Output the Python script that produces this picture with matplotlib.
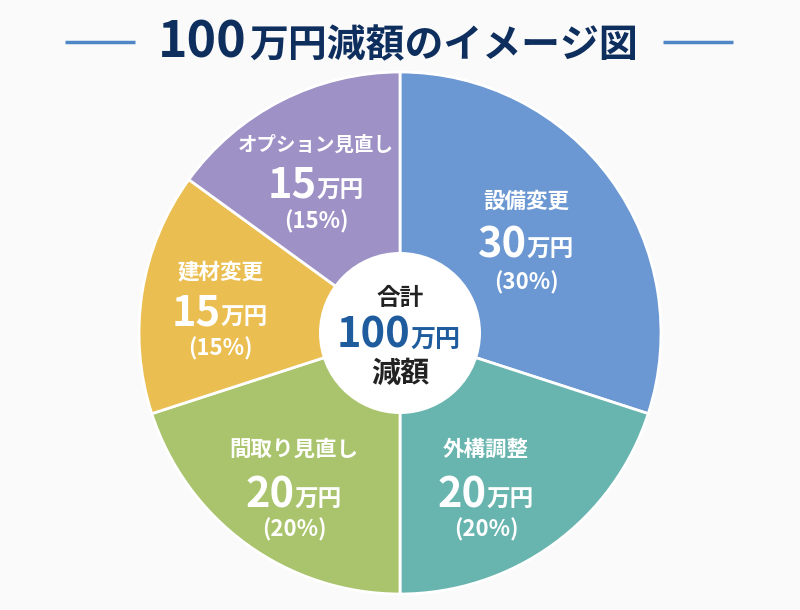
import matplotlib
matplotlib.use('Agg')
import matplotlib.pyplot as plt
from matplotlib.patches import Circle

plt.rcParams['font.family'] = ['Noto Sans CJK JP', 'DejaVu Sans']

# ---- data ----
title_num = '100'
title_rest = '万円減額のイメージ図'
categories = ['設備変更', '外構調整', '間取り見直し', '建材変更', 'オプション見直し']
amounts = [30, 20, 20, 15, 15]
percents = [30, 20, 20, 15, 15]
colors = ['#6b98d2', '#68b4ae', '#a9c46c', '#ebbe51', '#9d91c6']
unit = '万円'
total = 100
center_top = '合計'
center_bottom = '減額'

# ---- layout (pixel coordinates, y measured from top) ----
W, H = 800, 610
fig = plt.figure(figsize=(8, 6.1), dpi=100, facecolor='#fafafa')
ax = fig.add_axes([0, 0, 1, 1])
ax.set_facecolor('#fafafa')

def Y(y):
    return H - y

cx, cy, R = 400, 333, 261
ax.pie(amounts, colors=colors, startangle=90, counterclock=False,
       center=(cx, Y(cy)), radius=R,
       wedgeprops=dict(edgecolor='white', linewidth=2.0))
ax.set_xlim(0, W)
ax.set_ylim(0, H)
ax.set_aspect('equal')
ax.axis('off')

ax.add_patch(Circle((cx, Y(cy)), 81, facecolor='white', edgecolor='none', zorder=5))

renderer = fig.canvas.get_renderer()

def composite(x, y_base, parts, gap=0):
    """parts: list of (text, size, color). Centered at x, common baseline."""
    objs = []
    for s, size, color in parts:
        t = ax.text(0, Y(y_base), s, fontsize=size, fontweight='bold', color=color,
                    ha='left', va='baseline', zorder=10)
        objs.append(t)
    widths = [t.get_window_extent(renderer).width for t in objs]
    tot = sum(widths) + gap * (len(objs) - 1)
    xx = x - tot / 2
    for t, w in zip(objs, widths):
        t.set_x(xx)
        xx += w + gap

# title
composite(398, 57, [(title_num, 36, '#0e2f5e'), (title_rest, 28, '#0e2f5e')], gap=3)
ax.plot([65, 135], [Y(42), Y(42)], color='#4f86c6', lw=2.5, solid_capstyle='butt')
ax.plot([663, 733], [Y(42), Y(42)], color='#4f86c6', lw=2.5, solid_capstyle='butt')

# slice labels: (label center x, label center y, number baseline y, percent center y)
label_pos = [
    (526, 201, 257, 283),
    (486, 449, 507, 530),
    (294, 449, 507, 530),
    (220, 272, 325, 349),
    (316, 145, 198, 222),
]
label_sizes = [15.5, 15.5, 15.5, 15.5, 14]
for cat, amt, pct, (lx, ly, nb, py), ls in zip(categories, amounts, percents,
                                               label_pos, label_sizes):
    ax.text(lx, Y(ly), cat, fontsize=ls, fontweight='bold', color='white',
            ha='center', va='center', zorder=10)
    composite(lx, nb, [(str(amt), 30, 'white'), (unit, 17, 'white')], gap=0)
    ax.text(lx, Y(py), f'({pct}%)', fontsize=16, fontweight='bold', color='white',
            ha='center', va='center', zorder=10)

# center text
ax.text(400, Y(298), center_top, fontsize=17, fontweight='bold', color='#222222',
        ha='center', va='center', zorder=10)
composite(399, 348, [(str(total), 30, '#1f5c9e'), (unit, 18, '#1f5c9e')], gap=0)
ax.text(400, Y(373), center_bottom, fontsize=21, fontweight='bold', color='#222222',
        ha='center', va='center', zorder=10)

fig.savefig('out.png', dpi=100, facecolor=fig.get_facecolor())
